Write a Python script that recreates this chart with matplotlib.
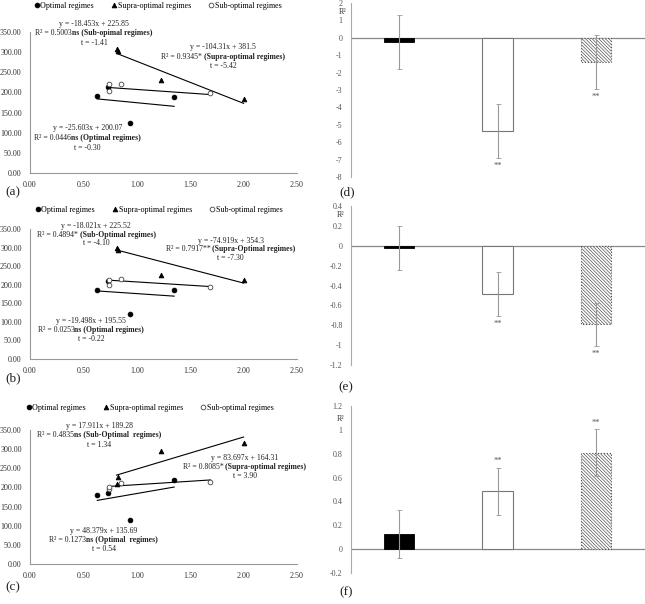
import numpy as np
import matplotlib
matplotlib.use("Agg")
import matplotlib.pyplot as plt
from matplotlib.transforms import offset_copy

plt.rcParams['font.family'] = ['Liberation Serif', 'DejaVu Serif']
plt.rcParams['axes.unicode_minus'] = False
plt.rcParams['hatch.color'] = '#555555'
plt.rcParams['hatch.linewidth'] = 0.5

W, H = 645, 604

# scatter data (x shared across panels)
opt_x = [0.63, 0.73, 0.94, 1.35]
supra_x = [0.81, 0.82, 1.23, 2.00]
sub_x = [0.74, 0.74, 0.85, 1.69]

a_opt_y = [192, 214, 123, 188]
a_supra_y = [308, 303, 232, 183]
a_sub_y = [220, 204, 220, 198]
b_opt_y = [186, 209, 121, 186]
b_supra_y = [299, 294, 227, 212]
b_sub_y = [213, 198, 215, 193]
c_opt_y = [180, 185, 115, 219]
c_supra_y = [209, 226, 295, 316]
c_sub_y = [195, 200, 211, 213]

# regression coefficients: optimal, supra, sub
a_slopes = [-25.603, -104.31, -18.453]
a_icpts = [200.07, 381.5, 225.85]
b_slopes = [-19.498, -74.919, -18.021]
b_icpts = [195.55, 354.3, 225.52]
c_slopes = [48.379, 83.697, 17.911]
c_icpts = [135.69, 164.31, 189.28]

# annotation text: (x, y, line1, r2 normal, r2 bold, line3)
a_notes = [
    (0.54, 111, "y = -25.603x + 200.07", "R² = 0.0446", "ns (Optimal regimes)", "t = -0.30"),
    (1.81, 313, "y = -104.31x + 381.5", "R² = 0.9345* ", "(Supra-optimal regimes)", "t = -5.42"),
    (0.60, 371, "y = -18.453x + 225.85", "R² = 0.5003", "ns (Sub-opimal regimes)", "t = -1.41"),
]
b_notes = [
    (0.57, 101, "y = -19.498x + 195.55", "R² = 0.0253", "ns (Optimal regimes)", "t = -0.22"),
    (1.88, 319, "y = -74.919x + 354.3", "R² = 0.7917** ", "(Supra-Optimal regimes)", "t = -7.30"),
    (0.62, 359, "y = -18.021x + 225.52", "R² = 0.4894* ", "(Sub-Optimal regimes)", "t = -4.10"),
]
c_notes = [
    (0.69, 87, "y = 48.379x + 135.69", "R² = 0.1273", "ns (Optimal  regimes)", "t = 0.54"),
    (2.01, 278, "y = 83.697x + 164.31", "R² = 0.8085* ", "(Supra-optimal regimes)", "t = 3.90"),
    (0.65, 360, "y = 17.911x + 189.28", "R² = 0.4835", "ns (Sub-Optimal  regimes)", "t = 1.34"),
]

# bar data: optimal, sub, supra
d_vals = [-0.25, -5.38, -1.40]
d_err = [1.55, 1.55, 1.55]
e_vals = [-0.025, -0.489, -0.792]
e_err = [0.22, 0.22, 0.22]
f_vals = [0.127, 0.484, 0.809]
f_err = [0.20, 0.20, 0.20]
d_stars = ['', '**', '**']
e_stars = ['', '**', '**']
f_stars = ['', '**', '**']

fig = plt.figure(figsize=(W / 100, H / 100), dpi=100)
renderer = fig.canvas.get_renderer()


def px_axes(left, top, right, bottom):
    return fig.add_axes([left / W, 1 - bottom / H, (right - left) / W, (bottom - top) / H])


def mixed_line(ax, x, y, normal, bold, fs):
    t1 = ax.text(x, y, normal, fontsize=fs, ha='left', va='center', color='#222222')
    t2 = ax.text(x, y, bold, fontsize=fs, ha='left', va='center', fontweight='bold', color='#222222')
    w1 = t1.get_window_extent(renderer).width
    w2 = t2.get_window_extent(renderer).width
    tot = w1 + w2
    t1.set_transform(offset_copy(ax.transData, fig=fig, x=-tot / 2, y=0, units='dots'))
    t2.set_transform(offset_copy(ax.transData, fig=fig, x=-tot / 2 + w1, y=0, units='dots'))


def scatter_panel(ax, ys, slopes, icpts, notes, leg_x, leg_y):
    xs = [opt_x, supra_x, sub_x]
    styles = [dict(marker='o', mfc='black', mec='black'),
              dict(marker='^', mfc='black', mec='black'),
              dict(marker='o', mfc='white', mec='#444444')]
    labels = ['Optimal regimes', 'Supra-optimal regimes', 'Sub-optimal regimes']
    handles = []
    for x, y, st, lab, m, b in zip(xs, ys, styles, labels, slopes, icpts):
        h, = ax.plot(x, y, ls='none', ms=3.4, mew=0.6, label=lab, zorder=3, **st)
        handles.append(h)
        xl = np.array([min(x), max(x)])
        ax.plot(xl, m * xl + b, color='black', lw=0.8, zorder=2)
    for (nx, ny, l1, rn, rb, l3) in notes:
        ax.text(nx, ny, l1, fontsize=5.6, ha='center', va='center', color='#222222')
        mixed_line(ax, nx, ny - 24, rn, rb, 5.6)
        ax.text(nx, ny - 48, l3, fontsize=5.6, ha='center', va='center', color='#222222')
    ax.set_xlim(0, 2.5)
    ax.set_ylim(0, 350)
    ax.set_xticks(np.arange(0, 2.51, 0.5))
    ax.set_yticks(np.arange(0, 351, 50))
    ax.set_xticklabels([f"{v:.2f}" for v in np.arange(0, 2.51, 0.5)])
    ax.set_yticklabels([f"{v:.2f}" for v in np.arange(0, 351, 50)])
    ax.tick_params(length=0, labelsize=5.8, colors='#333333', pad=6)
    for s in ['top', 'right']:
        ax.spines[s].set_visible(False)
    for s in ['left', 'bottom']:
        ax.spines[s].set_color('#999999')
        ax.spines[s].set_linewidth(0.8)
    ax.patch.set_alpha(0)
    ax.legend(handles=handles, loc='center', ncol=3, frameon=False, fontsize=5.8,
              bbox_to_anchor=(leg_x / W, 1 - leg_y / H), bbox_transform=fig.transFigure,
              handlelength=0.6, handletextpad=0.15, columnspacing=2.2, borderpad=0)


def bar_panel(ax, vals, errs, stars, ylim, step, r2_xy):
    pos = np.arange(len(vals))
    ax.bar(pos[0], vals[0], width=0.31, color='black', edgecolor='black', lw=0.6, zorder=2)
    ax.bar(pos[1], vals[1], width=0.31, color='white', edgecolor='#777777', lw=0.8, zorder=2)
    ax.bar(pos[2], vals[2], width=0.31, color='white', edgecolor='#555555', lw=0.8,
           hatch='\\' * 10, ls=':', zorder=2)
    ax.errorbar(pos, vals, yerr=errs, fmt='none', ecolor='#999999', elinewidth=0.8,
                capsize=1.8, capthick=0.6, zorder=3)
    for p, v, e, s in zip(pos, vals, errs, stars):
        if not s:
            continue
        if v < 0:
            ax.annotate(s, (p, v - e), xytext=(0, -5.5), textcoords='offset points',
                        ha='center', va='center', fontsize=6, color='#555555')
        else:
            ax.annotate(s, (p, v + e), xytext=(0, 4.5), textcoords='offset points',
                        ha='center', va='center', fontsize=6, color='#555555')
    ax.axhline(0, color='#888888', lw=0.9, zorder=1)
    ax.set_xlim(-0.49, 2.5)
    ax.set_ylim(*ylim)
    ticks = np.round(np.arange(ylim[0], ylim[1] + step / 2, step), 2)
    ax.set_yticks(ticks)
    ax.set_yticklabels([f"{t:g}" if abs(t) > 1e-9 else "0" for t in ticks])
    ax.set_xticks([])
    ax.tick_params(length=0, labelsize=5.8, colors='#555555', pad=6)
    for s in ['top', 'right', 'bottom']:
        ax.spines[s].set_visible(False)
    ax.spines['left'].set_color('#aaaaaa')
    ax.spines['left'].set_linewidth(0.8)
    ax.patch.set_alpha(0)
    fig.text(r2_xy[0] / W, 1 - r2_xy[1] / H, "R²", fontsize=5.8, ha='center', va='center',
             color='#333333')


ax_a = px_axes(30, 32, 297, 173)
ax_b = px_axes(30, 229, 297, 359)
ax_c = px_axes(30, 430, 297, 564)
scatter_panel(ax_a, [a_opt_y, a_supra_y, a_sub_y], a_slopes, a_icpts, a_notes, 158, 6)
scatter_panel(ax_b, [b_opt_y, b_supra_y, b_sub_y], b_slopes, b_icpts, b_notes, 159, 210)
scatter_panel(ax_c, [c_opt_y, c_supra_y, c_sub_y], c_slopes, c_icpts, c_notes, 150, 408)

ax_d = px_axes(351, 3, 645, 177)
ax_e = px_axes(351, 206, 645, 365)
ax_f = px_axes(351, 406, 645, 573)
bar_panel(ax_d, d_vals, d_err, d_stars, (-8, 2), 1, (343, 12))
bar_panel(ax_e, e_vals, e_err, e_stars, (-1.2, 0.4), 0.2, (341, 215))
bar_panel(ax_f, f_vals, f_err, f_stars, (-0.2, 1.2), 0.2, (341, 419))

for lab, x, y in [("(a)", 13, 192), ("(b)", 13, 378), ("(c)", 13, 587),
                  ("(d)", 347, 192), ("(e)", 346, 387), ("(f)", 346, 592)]:
    fig.text(x / W, 1 - y / H, lab, fontsize=9.5, ha='center', va='center', color='#222222')

fig.savefig("out.png", dpi=100)
